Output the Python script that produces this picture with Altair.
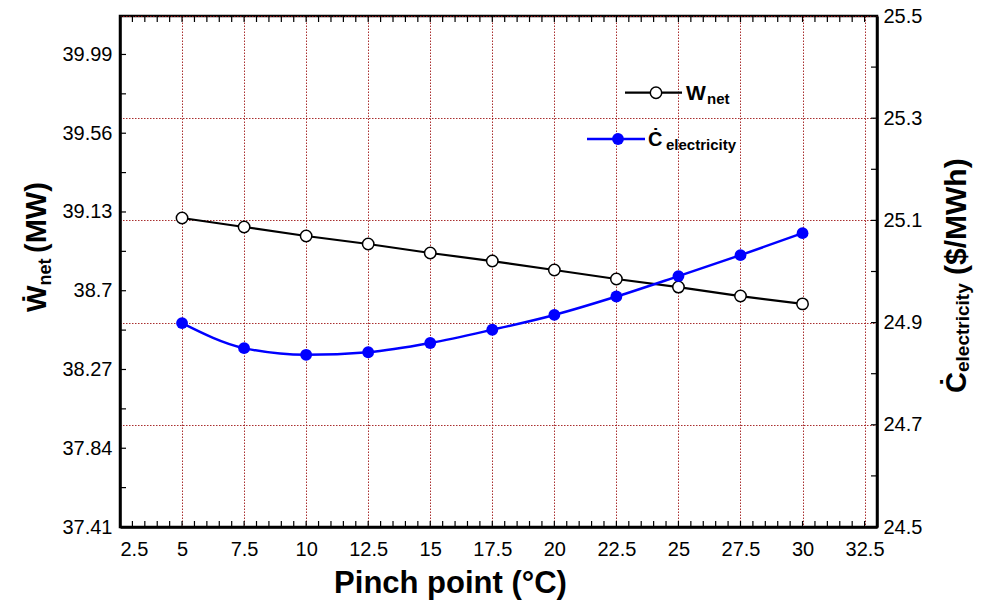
import altair as alt
import pandas as pd

# ---------------- data ----------------
pinch = [5, 7.5, 10, 12.5, 15, 17.5, 20, 22.5, 25, 27.5, 30]
w_net = [39.097, 39.048, 38.999, 38.955, 38.906, 38.862, 38.813, 38.764, 38.720, 38.671, 38.628]
c_elec = [24.899, 24.850, 24.837, 24.842, 24.860, 24.886, 24.915, 24.951, 24.991, 25.032, 25.075]

x_ticks = [2.5, 5, 7.5, 10, 12.5, 15, 17.5, 20, 22.5, 25, 27.5, 30, 32.5]
left_ticks = [37.41, 37.84, 38.27, 38.70, 39.13, 39.56, 39.99]
right_ticks = [24.5, 24.7, 24.9, 25.1, 25.3, 25.5]

x_minor = [2.5 + 0.5 * i for i in range(61)]
left_minor = [37.41 + 0.215 * i for i in range(13)]
right_minor = [24.5 + 0.1 * i for i in range(11)]

df = pd.DataFrame({"pinch": pinch, "w_net": w_net, "c_elec": c_elec})

FONT = "Liberation Sans"
W, H = 757, 511
GRID = "#a01818"

xscale = alt.Scale(domain=[2.5, 33], nice=False, zero=False)
lscale = alt.Scale(domain=[37.41, 40.2], nice=False, zero=False)
rscale = alt.Scale(domain=[24.5, 25.5], nice=False, zero=False)

x_axis = alt.Axis(
    values=x_ticks, format=".1~f", labelFont=FONT, labelFontSize=20, labelColor="black",
    labelPadding=12, tickSize=0, domain=True, domainColor="black", domainWidth=2.5,
    grid=True, gridColor=GRID, gridDash=[1.5, 1.5], gridWidth=1, gridOpacity=0.9,
    title="Pinch point (°C)", titleFont=FONT, titleFontSize=31, titleFontWeight="bold",
    titleColor="black", titleX=330, titleY=65, titleAlign="center", titleBaseline="alphabetic",
)
l_axis = alt.Axis(
    values=left_ticks, format=".2~f", labelFont=FONT, labelFontSize=20, labelColor="black",
    labelPadding=8, tickSize=0, domain=True, domainColor="black", domainWidth=2.5,
    grid=False, title=None, orient="left",
)
r_axis = alt.Axis(
    values=right_ticks, format=".1f", labelFont=FONT, labelFontSize=20, labelColor="black",
    labelPadding=6, tickSize=0, domain=True, domainColor="black", domainWidth=2.5,
    grid=True, gridColor=GRID, gridDash=[1.5, 1.5], gridWidth=1, gridOpacity=0.9,
    title=None, orient="right",
)

X = alt.X("pinch:Q", scale=xscale, axis=x_axis)


def txt(s, x, y, size, angle=0):
    return alt.Chart(pd.DataFrame({"t": [s]})).mark_text(
        font=FONT, fontSize=size, fontWeight="bold", color="black",
        align="left", baseline="alphabetic", angle=angle,
    ).encode(text="t:N", x=alt.value(x), y=alt.value(y))


one = pd.DataFrame({"k": [0]})

# ---------- left (W_net) group ----------
w_line = alt.Chart(df).mark_line(color="black", strokeWidth=2.2).encode(
    x=X, y=alt.Y("w_net:Q", scale=lscale, axis=l_axis))
w_pts = alt.Chart(df).mark_point(
    shape="circle", filled=True, fill="white", stroke="black", strokeWidth=1.5,
    size=130, opacity=1).encode(x=X, y=alt.Y("w_net:Q", scale=lscale, axis=l_axis))

lt = pd.DataFrame({"v": left_minor})
l_ticks = alt.Chart(lt).mark_rule(color="black", strokeWidth=1.2).encode(
    y=alt.Y("v:Q", scale=lscale, axis=l_axis), x=alt.value(0), x2=alt.value(6))

xt = pd.DataFrame({"pinch": x_minor})
xb_ticks = alt.Chart(xt).mark_rule(color="black", strokeWidth=1.2).encode(
    x=X, y=alt.value(H), y2=alt.value(H - 6))
xtop_ticks = alt.Chart(xt).mark_rule(color="black", strokeWidth=1.2).encode(
    x=X, y=alt.value(0), y2=alt.value(6))

# legend
leg_w_line = alt.Chart(one).mark_rule(color="black", strokeWidth=2.2).encode(
    x=alt.value(505), x2=alt.value(562), y=alt.value(76.7))
leg_w_pt = alt.Chart(one).mark_point(
    shape="circle", filled=True, fill="white", stroke="black", strokeWidth=1.5,
    size=130, opacity=1).encode(x=alt.value(536), y=alt.value(76.7))
leg_c_line = alt.Chart(one).mark_rule(color="#0000ff", strokeWidth=2.5).encode(
    x=alt.value(467), x2=alt.value(525), y=alt.value(123))
leg_c_pt = alt.Chart(one).mark_circle(color="#0000ff", size=140, opacity=1).encode(
    x=alt.value(498), y=alt.value(123))

texts = [
    txt("W", 566, 84, 21),
    txt("net", 587, 88, 15),
    txt("Ċ", 528, 130, 20),
    txt("electricity", 546, 134, 15),
    # left axis title (rotated)
    txt("Ẇ", -74, 296, 28, 270),
    txt("net", -69, 269.6, 18, 270),
    txt("(MW)", -74, 237, 29, 270),
    # right axis title (rotated)
    txt("Ċ", 846, 377, 29, 270),
    txt("electricity", 849, 356, 19, 270),
    txt("($/MWh)", 846, 259, 30, 270),
]

left = alt.layer(w_line, w_pts, l_ticks, xb_ticks, xtop_ticks,
                 leg_w_line, leg_w_pt, leg_c_line, leg_c_pt, *texts)

# ---------- right (C_electricity) group ----------
c_line = alt.Chart(df).mark_line(color="#0000ff", strokeWidth=2.5, interpolate="monotone").encode(
    x=X, y=alt.Y("c_elec:Q", scale=rscale, axis=r_axis))
c_pts = alt.Chart(df).mark_circle(color="#0000ff", size=140, opacity=1).encode(
    x=X, y=alt.Y("c_elec:Q", scale=rscale, axis=r_axis))
rt = pd.DataFrame({"v": right_minor})
r_ticks = alt.Chart(rt).mark_rule(color="black", strokeWidth=1.2).encode(
    y=alt.Y("v:Q", scale=rscale, axis=r_axis), x=alt.value(W), x2=alt.value(W - 6))

right = alt.layer(c_line, c_pts, r_ticks)

chart = alt.layer(left, right).resolve_scale(y="independent").properties(
    width=W, height=H,
    autosize=alt.AutoSizeParams(type="none"),
    padding={"left": 112, "top": 8, "right": 97, "bottom": 75},
    background="white",
).configure_view(stroke="black", strokeWidth=2.5)

chart.save("out.html", embed_options={"renderer": "svg", "actions": False})
